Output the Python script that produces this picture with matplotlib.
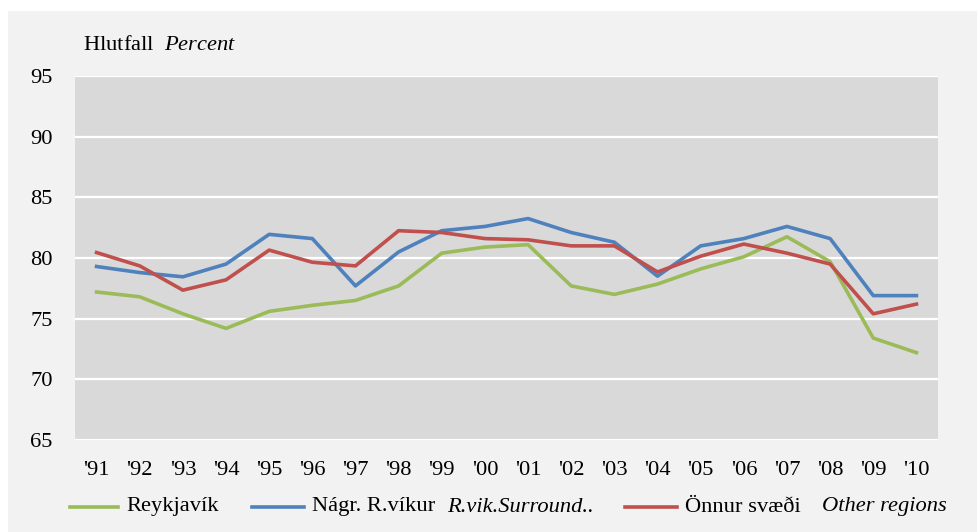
import matplotlib
matplotlib.use('Agg')
import matplotlib.pyplot as plt
from matplotlib.lines import Line2D
from matplotlib.patches import Rectangle

plt.rcParams['font.family'] = ['Liberation Serif', 'DejaVu Serif']
plt.rcParams['mathtext.fontset'] = 'custom'
plt.rcParams['mathtext.rm'] = 'Liberation Serif'
plt.rcParams['mathtext.it'] = 'Liberation Serif:italic'

# Data
years = ["'91", "'92", "'93", "'94", "'95", "'96", "'97", "'98", "'99", "'00",
         "'01", "'02", "'03", "'04", "'05", "'06", "'07", "'08", "'09", "'10"]
reykjavik = [77.2, 76.8, 75.4, 74.2, 75.6, 76.1, 76.5, 77.7, 80.4, 80.9,
             81.1, 77.7, 77.0, 77.85, 79.1, 80.1, 81.75, 79.7, 73.4, 72.2]
nagr = [79.3, 78.8, 78.45, 79.5, 81.95, 81.6, 77.7, 80.5, 82.25, 82.6,
        83.25, 82.1, 81.3, 78.5, 81.0, 81.6, 82.6, 81.6, 76.9, 76.9]
onnur = [80.45, 79.35, 77.35, 78.2, 80.65, 79.65, 79.35, 82.25, 82.1, 81.6,
         81.5, 81.0, 81.0, 78.85, 80.15, 81.15, 80.4, 79.5, 75.4, 76.2]

green = '#9BBB59'
blue = '#4F81BD'
red = '#C0504D'
fs = 16.2
lw = 2.6

fig = plt.figure(figsize=(9.78, 5.32), dpi=100, facecolor='white')
fig.patches.append(Rectangle((8 / 978, 0), 1, (532 - 11) / 532, transform=fig.transFigure,
                             facecolor='#F2F2F2', edgecolor='none', zorder=-10))

ax = fig.add_axes([75 / 978, (532 - 440) / 532, (938 - 75) / 978, (440 - 76) / 532])
ax.set_facecolor('#D9D9D9')

x = list(range(len(years)))
ax.plot(x, reykjavik, color=green, lw=lw, zorder=3)
ax.plot(x, nagr, color=blue, lw=lw, zorder=3)
ax.plot(x, onnur, color=red, lw=lw, zorder=3)

ax.set_xlim(-0.5, len(years) - 0.5)
ax.set_ylim(65, 95)
ax.set_yticks(range(65, 96, 5))
ax.set_xticks(x)
ax.set_xticklabels(years)
ax.grid(axis='y', color='white', lw=1.6, zorder=1)
ax.set_axisbelow(True)
for s in ax.spines.values():
    s.set_visible(False)
ax.tick_params(axis='both', length=0, labelsize=fs)
ax.tick_params(axis='y', pad=16)
ax.tick_params(axis='x', pad=15)

fig.text(83 / 978, (532 - 45) / 532, r'Hlutfall  $\it{Percent}$', fontsize=fs,
         ha='left', va='center')

# legend drawn by hand
ly = (532 - 507) / 532
items = [(70, 118, green, 'Reykjavík', None, None),
         (252, 304, blue, 'Nágr. R.víkur', 447, 'R.vik.Surround..'),
         (625, 677, red, 'Önnur svæði', 822, 'Other regions')]
for x0, x1, c, lab, ix, it in items:
    fig.add_artist(Line2D([x0 / 978, x1 / 978], [ly, ly], color=c, lw=lw,
                          transform=fig.transFigure))
    fig.text((x1 + 8) / 978, ly, lab, fontsize=fs, ha='left', va='center')
    if it:
        fig.text(ix / 978, ly, it, fontsize=fs, style='italic', ha='left', va='center')

fig.savefig('out.png', dpi=100, facecolor=fig.get_facecolor())
